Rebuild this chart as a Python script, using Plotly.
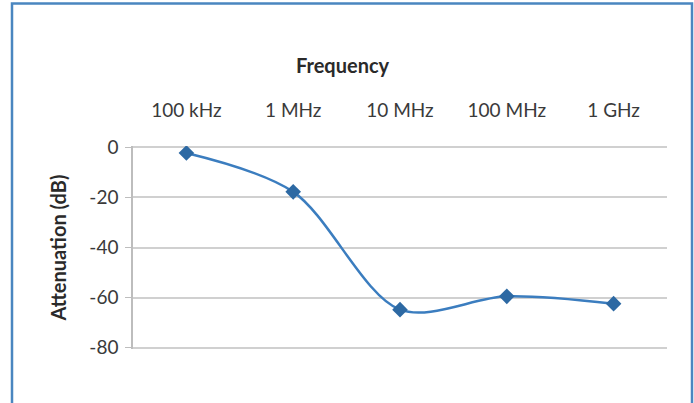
import plotly.graph_objects as go

categories = ["100 kHz", "1 MHz", "10 MHz", "100 MHz", "1 GHz"]
attenuation_db = [-2.3, -17.8, -64.8, -59.5, -62.4]
y_ticks = [0, -20, -40, -60, -80]

W, H = 694, 403
# pixel positions of plot area (range padded slightly so edge gridlines show)
L, R = 133, 667
y0_px, y80_px = 147, 348
pad = 0.5
ppu = (y80_px - y0_px) / 80.0
T = y0_px - pad * ppu
B = y80_px + pad * ppu

fig = go.Figure()
fig.add_trace(go.Scatter(
    x=categories, y=attenuation_db, mode="lines+markers",
    line=dict(color="#3b7dbf", width=2.5, shape="spline", smoothing=0.9),
    marker=dict(symbol="diamond", size=12, color="#2d69a3",
                line=dict(color="#2d69a3", width=0)),
    showlegend=False,
))

def px_x(p):
    return (p - L) / (R - L)

def px_y(p):
    return (B - p) / (B - T)

fig.add_shape(type="rect", xref="paper", yref="paper",
              x0=px_x(12), x1=px_x(692), y0=px_y(420), y1=px_y(3),
              line=dict(color="#4a86c0", width=2.5), layer="below")

fig.add_annotation(text="<b>Frequency</b>", xref="paper", yref="paper",
                   x=px_x(343), y=px_y(65), showarrow=False,
                   xanchor="center", yanchor="middle",
                   font=dict(size=20, color="#2a2a2a"))

font_family = "Lato, 'Liberation Sans', sans-serif"
fig.update_layout(
    width=W, height=H,
    margin=dict(l=L, r=W - R, t=T, b=H - B, pad=0),
    paper_bgcolor="white", plot_bgcolor="white",
    font=dict(family=font_family, size=19, color="#3a3a3a"),
    xaxis=dict(
        type="category", side="top", range=[-0.5, 4.5],
        showgrid=False, showline=False, ticks="", zeroline=False,
        ticklabelstandoff=24,
        tickfont=dict(size=19, color="#3a3a3a"),
    ),
    yaxis=dict(
        range=[-80 - pad, 0 + pad], tickvals=y_ticks,
        ticktext=[str(v) for v in y_ticks],
        showgrid=True, gridcolor="#d0d0d0", gridwidth=2,
        showline=True, linecolor="#bdbdbd", linewidth=1.5,
        ticks="outside", ticklen=6, tickcolor="#bdbdbd",
        zeroline=False, ticklabelstandoff=3,
        tickfont=dict(size=19, color="#3a3a3a"),
        title=dict(text="<b>Attenuation (dB)</b>", standoff=17,
                   font=dict(size=20, color="#2a2a2a")),
    ),
)

fig.write_html("out.html", config={"displayModeBar": False},
               post_script="document.body.style.margin='0';")
